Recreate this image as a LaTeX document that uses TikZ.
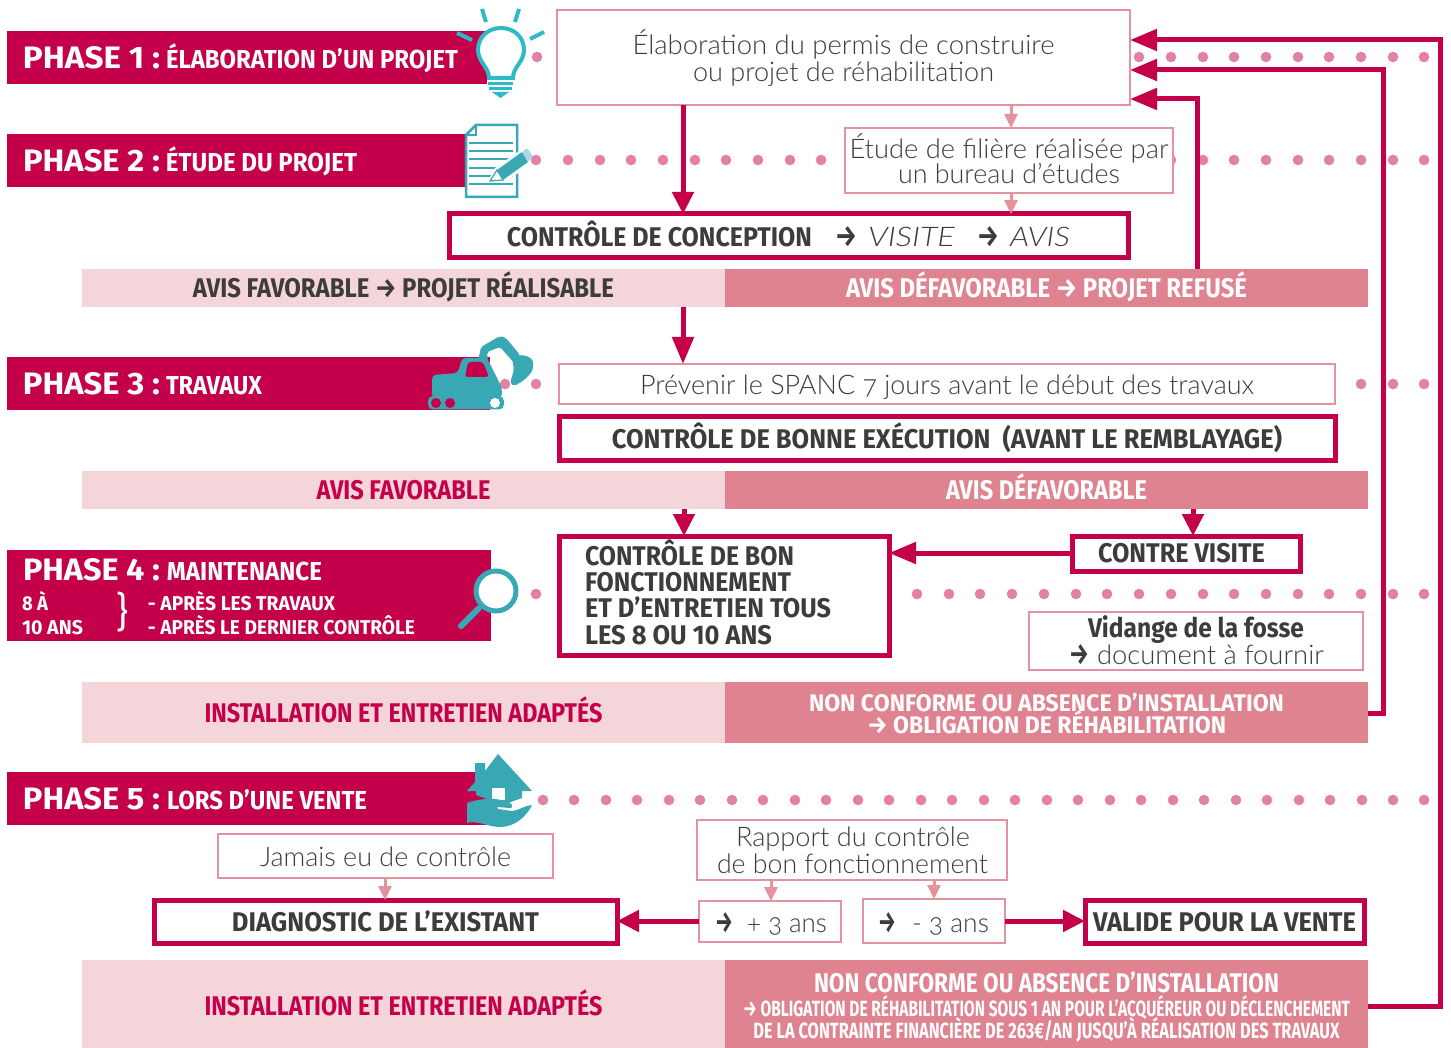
\documentclass[tikz,border=0pt]{standalone}
\usepackage{fontspec}
\usepackage{graphicx}
\usetikzlibrary{arrows.meta}
\setmainfont{Fira Sans}
\newfontfamily\din{Fira Sans}[UprightFont=* Bold]
\newfontfamily\lite{Lato}[UprightFont=* Light, ItalicFont=* Light Italic, Numbers=OldStyle]
\newfontfamily\fir{Fira Sans}
\definecolor{crim}{HTML}{C4004B}
\definecolor{dband}{HTML}{DF8390}
\definecolor{lband}{HTML}{F4D5D9}
\definecolor{pinkb}{HTML}{E5929F}
\definecolor{dott}{HTML}{E380A7}
\definecolor{ink}{HTML}{3C3C3B}
\definecolor{teal1}{HTML}{38A8B5}
\definecolor{teal2}{HTML}{2DB9C8}
\definecolor{teal3}{HTML}{A8DAE3}
% one line of text placed relative to the centre of its node: dx, baseline dy, width, content
\newcommand\ltxt[4]{\kern #1pt\makebox[0pt]{\raisebox{-#2pt}[0pt][0pt]{\resizebox{#3pt}{\height}{#4}}}\kern -#1pt\relax}
% node given by its corners
\newcommand\pbox[7]{\pgfmathsetmacro\pcx{(#2+#4)/2}\pgfmathsetmacro\pcy{(#3+#5)/2}\pgfmathsetmacro\pbw{abs(#4-#2)}\pgfmathsetmacro\pbh{abs(#5-#3)}\node[#6,minimum width=\pbw pt,minimum height=\pbh pt] (#1) at (\pcx,\pcy) {#7};}
\newcommand\aro{{\din →}}
\newcommand\ph[1]{{\din\fontsize{31}{31}\selectfont #1}}
\newcommand\sh[1]{{\din\fontsize{26}{26}\selectfont #1}}
\newcommand\bd[1]{{\din\fontsize{27}{27}\selectfont #1}}
\newcommand\md[1]{{\din\fontsize{24}{24}\selectfont #1}}
\newcommand\sm[1]{{\din\fontsize{22}{22}\selectfont #1}}
\newcommand\lt[1]{{\lite\fontsize{27}{27}\selectfont #1}}
\newcommand\la{{\din\fontsize{30}{30}\selectfont →}}
\tikzset{
 every node/.style={inner sep=0pt,outer sep=0pt,text=ink},
 bar/.style={fill=crim,text=white},
 lightband/.style={fill=lband},
 darkband/.style={fill=dband,text=white},
 softbox/.style={draw=pinkb,line width=2.5pt,fill=white},
 hardbox/.style={draw=crim,line width=5pt,fill=white},
 bigarrow/.style={draw=crim,line width=5pt,-{Triangle[length=27pt,width=21pt]}},
 midarrow/.style={draw=crim,line width=5pt,-{Triangle[length=22pt,width=21pt]}},
 softarrow/.style={draw=pinkb,line width=3pt,-{Triangle[length=14pt,width=13pt]}},
 dotted row/.style={fill=dott},
}
\begin{document}
\begin{tikzpicture}[x=1pt,y=-1pt]
\useasboundingbox (0,0) rectangle (1451,1048);
% dots
\foreach \y/\xs in {57/{537,1139,1171,1203,1234,1266,1298,1329,1361,1393,1424},
 160/{536,568,600,631,663,695,726,758,790,821,1171,1203,1234,1266,1298,1329,1361,1393,1424},
 384/{505,536,1361,1393,1424},
 594/{536,917,949,980,1012,1044,1076,1107,1139,1171,1203,1234,1266,1298,1329,1361,1393,1424},
 800/{543,574,606,637,669,700,732,763,795,826,858,889,921,952,984,1015,1047,1078,1110,1141,1173,1204,1236,1267,1299,1330,1362,1393,1424}}
 {\foreach \x in \xs {\fill[dotted row] (\x,\y) circle (5.3pt);}}
% phase bars
\pbox{bara}{7}{31}{490}{84}{bar}{\ltxt{-157}{11}{137}{\ph{PHASE 1 :}}\ltxt{63.5}{11}{292}{\sh{ÉLABORATION D’UN PROJET}}}
\pbox{barb}{7}{134}{465}{187}{bar}{\ltxt{-144.5}{11}{137}{\ph{PHASE 2 :}}\ltxt{25.5}{11}{191}{\sh{ÉTUDE DU PROJET}}}
\pbox{barc}{7}{357}{490}{410}{bar}{\ltxt{-157}{11}{137}{\ph{PHASE 3 :}}\ltxt{-34.5}{11}{96}{\sh{TRAVAUX}}}
\pbox{bard}{7}{550}{491}{641}{bar}{\ltxt{-157.5}{-15.5}{137}{\ph{PHASE 4 :}}\ltxt{-4.5}{-15.5}{155}{\sh{MAINTENANCE}}\ltxt{-214}{14.5}{26}{\din\fontsize{20}{20}\selectfont 8 À}\ltxt{-196.5}{38.5}{61}{\din\fontsize{20}{20}\selectfont 10 ANS}\ltxt{-7.5}{14.5}{187}{\din\fontsize{20}{20}\selectfont - APRÈS LES TRAVAUX}\ltxt{32.5}{38.5}{267}{\din\fontsize{20}{20}\selectfont - APRÈS LE DERNIER CONTRÔLE}\ltxt{-127}{30.5}{12}{\resizebox*{12pt}{40pt}{\fir\}}}}
\pbox{bare}{7}{772}{490}{825}{bar}{\ltxt{-157}{11}{137}{\ph{PHASE 5 :}}\ltxt{18.5}{11}{200}{\sh{LORS D’UNE VENTE}}}
% bands
\pbox{bandaL}{82}{269}{725}{307}{lightband}{\ltxt{0}{10}{421}{\bd{AVIS FAVORABLE \aro\ PROJET RÉALISABLE}}}
\pbox{bandaR}{725}{269}{1368}{307}{darkband}{\textcolor{white}{\ltxt{0}{10}{401}{\bd{AVIS DÉFAVORABLE \aro\ PROJET REFUSÉ}}}}
\pbox{bandbL}{82}{471}{725}{509}{lightband}{\textcolor{crim}{\ltxt{0}{9.5}{174}{\bd{AVIS FAVORABLE}}}}
\pbox{bandbR}{725}{471}{1368}{509}{darkband}{\textcolor{white}{\ltxt{0}{9.5}{201}{\bd{AVIS DÉFAVORABLE}}}}
\pbox{bandcL}{82}{682}{725}{743}{lightband}{\textcolor{crim}{\ltxt{0}{9.5}{398}{\bd{INSTALLATION ET ENTRETIEN ADAPTÉS}}}}
\pbox{bandcR}{725}{682}{1368}{743}{darkband}{\textcolor{white}{\ltxt{0}{-1.5}{475}{\md{NON CONFORME OU ABSENCE D’INSTALLATION}}\ltxt{0}{20.5}{359}{\md{\aro\ OBLIGATION DE RÉHABILITATION}}}}
\pbox{banddL}{82}{960}{725}{1048}{lightband}{\textcolor{crim}{\ltxt{0}{11}{398}{\bd{INSTALLATION ET ENTRETIEN ADAPTÉS}}}}
\pbox{banddR}{725}{960}{1368}{1048}{darkband}{\textcolor{white}{\ltxt{0}{-12}{465}{\bd{NON CONFORME OU ABSENCE D’INSTALLATION}}\ltxt{0}{12}{607}{\sm{\aro\ OBLIGATION DE RÉHABILITATION SOUS 1 AN POUR L’ACQUÉREUR OU DÉCLENCHEMENT}}\ltxt{0}{34}{586}{\sm{DE LA CONTRAINTE FINANCIÈRE DE 263€/AN JUSQU’À RÉALISATION DES TRAVAUX}}}}
% boxes
\pbox{permis}{557}{10}{1130}{105}{softbox}{\ltxt{0}{-2.5}{422}{\lt{Élaboration du permis de construire}}\ltxt{0}{24.5}{301}{\lt{ou projet de réhabilitation}}}
\pbox{etude}{845}{128}{1173}{193}{softbox}{\ltxt{0}{-1.5}{319}{\lt{Étude de filière réalisée par}}\ltxt{0}{23.5}{222}{\lt{un bureau d’études}}}
\pbox{concep}{449}{214}{1128}{258}{hardbox}{\ltxt{-129}{10.5}{305}{\bd{CONTRÔLE DE CONCEPTION}}\ltxt{57.5}{10.5}{22}{\la}\ltxt{123}{10.5}{87}{\lt{\itshape VISITE}}\ltxt{199.5}{10.5}{22}{\la}\ltxt{251.5}{10.5}{60}{\lt{\itshape AVIS}}}
\pbox{prevenir}{559}{364}{1335}{404}{softbox}{\ltxt{0}{10}{614}{\lt{Prévenir le SPANC 7 jours avant le début des travaux}}}
\pbox{execut}{559}{416}{1335}{460}{hardbox}{\ltxt{0}{10}{670}{\bd{CONTRÔLE DE BONNE EXÉCUTION\ \ (AVANT LE REMBLAYAGE)}}}
\pbox{fonct}{559}{536}{889}{655}{hardbox}{\ltxt{-34.5}{-30.5}{209}{\bd{CONTRÔLE DE BON}}\ltxt{-36}{-4}{206}{\bd{FONCTIONNEMENT}}\ltxt{-16}{22}{246}{\bd{ET D’ENTRETIEN TOUS}}\ltxt{-45.5}{49}{187}{\bd{LES 8 OU 10 ANS}}}
\pbox{contre}{1072}{536}{1300}{571}{hardbox}{\ltxt{-4.5}{8.5}{167}{\bd{CONTRE VISITE}}}
\pbox{vidange}{1029}{612}{1363}{670}{softbox}{\ltxt{0}{-3.5}{216}{\bd{Vidange de la fosse}}\ltxt{-117}{23.5}{20}{\la}\ltxt{14.5}{23.5}{227}{\lt{document à fournir}}}
\pbox{jamais}{218}{834}{553}{878}{softbox}{\ltxt{0}{10.5}{251}{\lt{Jamais eu de contrôle}}}
\pbox{rapport}{697}{820}{1007}{880}{softbox}{\ltxt{1}{-4}{234}{\lt{Rapport du contrôle}}\ltxt{0.5}{23.5}{271}{\lt{de bon fonctionnement}}}
\pbox{diag}{154}{900}{617}{943}{hardbox}{\ltxt{0}{9.5}{307}{\bd{DIAGNOSTIC DE L’EXISTANT}}}
\pbox{plus}{699}{901}{841}{942}{softbox}{\ltxt{-46}{10.5}{18}{\la}\ltxt{17}{10.5}{80}{\lt{+ 3 ans}}}
\pbox{moins}{863}{899}{1005}{943}{softbox}{\ltxt{-47}{11}{18}{\la}\ltxt{16.5}{11}{77}{\lt{- 3 ans}}}
\pbox{valide}{1085}{900}{1364}{943}{hardbox}{\ltxt{0}{9.5}{263}{\bd{VALIDE POUR LA VENTE}}}
% connector helpers
\coordinate (xa) at (683,0);
\coordinate (xb) at (1011,0);
\coordinate (xc) at (684,0);
\coordinate (xd) at (1193,0);
\coordinate (xe) at (1197,0);
\coordinate (xf) at (1383,0);
\coordinate (xg) at (1440,0);
\coordinate (xh) at (385,0);
\coordinate (xi) at (771,0);
\coordinate (xj) at (934,0);
\coordinate (ya) at (0,99);
\coordinate (yb) at (0,70);
\coordinate (yc) at (0,40);
\coordinate (yd) at (0,713);
\coordinate (ye) at (0,1006);
\coordinate (yf) at (0,553);
\coordinate (yg) at (0,921);
% connectors
\draw[midarrow] (permis.south -| xa) -- (concep.north -| xa);
\draw[softarrow] (permis.south -| xb) -- (etude.north -| xb);
\draw[softarrow] (etude.south -| xb) -- (concep.north -| xb);
\draw[bigarrow] (bandaL.south -| xa) -- (prevenir.north -| xa);
\draw[midarrow] (bandbL.south -| xc) -- (fonct.north -| xc);
\draw[midarrow] (bandbR.south -| xd) -- (contre.north -| xd);
\draw[bigarrow] (contre.west |- yf) -- (fonct.east |- yf);
\draw[bigarrow] (bandaR.north -| xe) -- (xe |- ya) -- (permis.east |- ya);
\draw[bigarrow] (bandcR.east |- yd) -- (xf |- yd) -- (xf |- yb) -- (permis.east |- yb);
\draw[bigarrow] (banddR.east |- ye) -- (xg |- ye) -- (xg |- yc) -- (permis.east |- yc);
\draw[softarrow] (jamais.south -| xh) -- (diag.north -| xh);
\draw[softarrow] (rapport.south -| xi) -- (plus.north -| xi);
\draw[softarrow] (rapport.south -| xj) -- (moins.north -| xj);
\draw[midarrow] (plus.west |- yg) -- (diag.east |- yg);
\draw[midarrow] (moins.east |- yg) -- (valide.west |- yg);
% bulb
\begin{scope}[draw=teal2,line width=4pt]
\draw[fill=white] (489,78) .. controls (489,67) and (478,62) .. (478,50) .. controls (478,37) and (488,28) .. (501,28) .. controls (514,28) and (524,37) .. (524,50) .. controls (524,62) and (513,67) .. (513,78) -- cycle;
\draw (482,9) -- (486,22);
\draw (519,9) -- (515,22);
\draw (457,33) -- (472,40);
\draw (544,32) -- (530,39);
\end{scope}
\fill[white] (487,80) rectangle (515,99);
\fill[teal2] (488,82) rectangle (513,85);
\fill[teal2] (489,87) rectangle (512,90);
\fill[teal2] (492,92) -- (509,92) -- (500.5,98) -- cycle;
% document
\draw[draw=teal1,line width=2.5pt,fill=white] (476,125) -- (517,125) -- (517,197) -- (466,197) -- (466,135) -- cycle;
\draw[draw=teal1,line width=2pt] (466,135) -- (476,135) -- (476,125);
\foreach \y in {142,150,158,167,175,183} {\fill[teal1] (469,\y) rectangle (513,\y+2);}
\fill[white] (487,183) -- (495,168) -- (522,149) -- (531,165) -- (504,182) -- cycle;
\fill[teal1] (497,170) -- (522,152) -- (528,162) -- (503,180) -- cycle;
\fill[teal3,rounded corners=1.5pt] (522,152) -- (527,148) -- (533,156) -- (528,162) -- cycle;
\draw[draw=teal1,line width=1.2pt,fill=white] (490,181) -- (497,170) -- (503,180) -- cycle;
% excavator
\fill[teal1,rounded corners=2pt] (478,361) -- (481,347) -- (500,336) -- (506,338) -- (520,355) -- (515,364) -- (500,347) -- (487,352) -- (488,362) -- cycle;
\fill[teal1,rounded corners=2pt] (512,358) .. controls (520,353) and (533,356) .. (533,365) .. controls (533,373) and (524,381) .. (514,386) -- (510,383) -- (514,370) -- cycle;
\fill[teal1,rounded corners=4pt] (432,375) -- (458,373) -- (462,358) -- (487,358) -- (502,388) -- (502,398) -- (432,398) -- cycle;
\fill[teal1,rounded corners=5pt] (428,396) rectangle (504,409.5);
\fill[crim,rounded corners=3pt] (468,362) -- (483,362) -- (489,377) -- (465,377) -- cycle;
\fill[crim] (436,403) circle (5pt);
\fill[crim] (450,403) circle (5pt);
\fill[white] (495,403) circle (5pt);
% magnifier
\draw[draw=teal1,line width=6pt,line cap=round] (479,608) -- (461,626);
\draw[draw=teal1,line width=5pt,fill=white] (496,591) circle (20pt);
% house
\fill[teal1] (475,763) -- (485,763) -- (485,771) -- (498,754) -- (532,791) -- (522,791) -- (522,798) -- (508,803) -- (490,800) -- (476,795) -- (476,791) -- (467,791) -- (475,782) -- cycle;
\fill[white] (492,788) rectangle (505,800);
\fill[teal1] (467,803) .. controls (478,799) and (495,796) .. (510,803) .. controls (513,805) and (513,808) .. (510,808) -- (497,807) -- (498,809) -- (512,811) .. controls (520,810) and (526,805) .. (532,805) .. controls (527,816) and (515,827) .. (500,827) .. controls (488,827) and (478,820) .. (467,823) -- cycle;
\end{tikzpicture}
\end{document}
